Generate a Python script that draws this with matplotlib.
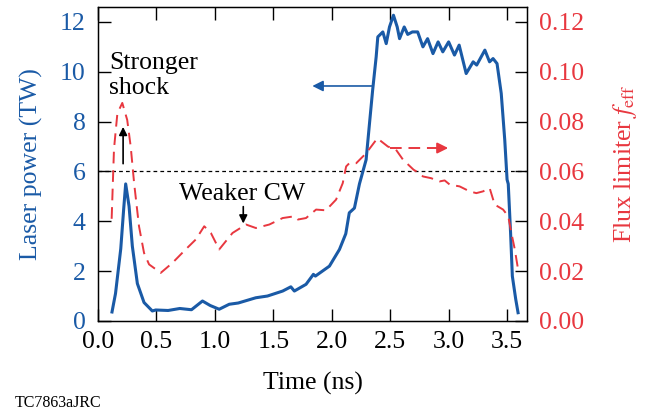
import numpy as np
import matplotlib.pyplot as plt

plt.rcParams['font.family'] = ['Liberation Serif', 'DejaVu Serif']
plt.rcParams['mathtext.fontset'] = 'stix'

blue = '#1a5aa6'
red = '#e8373f'

# laser power (TW) vs time (ns)
t_laser = [0.12, 0.15, 0.195, 0.22, 0.237, 0.266, 0.294, 0.337, 0.394, 0.465, 0.494, 0.6, 0.7,
           0.8, 0.894, 0.96, 1.037, 1.123, 1.2, 1.35, 1.45, 1.58, 1.65, 1.68, 1.78, 1.843, 1.86,
           1.98, 2.066, 2.12, 2.15, 2.194, 2.237, 2.294, 2.323, 2.35, 2.38, 2.394, 2.437, 2.466,
           2.494, 2.528, 2.56, 2.58, 2.62, 2.65, 2.69, 2.735, 2.78, 2.82, 2.866, 2.91, 2.95, 3.0,
           3.05, 3.09, 3.15, 3.21, 3.24, 3.31, 3.35, 3.38, 3.414, 3.45, 3.48, 3.5, 3.51, 3.53,
           3.545, 3.574, 3.594]
p_laser = [0.36, 1.1, 2.9, 4.5, 5.5, 4.6, 3.0, 1.5, 0.74, 0.4, 0.44, 0.42, 0.5,
           0.45, 0.8, 0.62, 0.47, 0.67, 0.72, 0.93, 1.0, 1.2, 1.37, 1.2, 1.47, 1.87, 1.8,
           2.2, 2.87, 3.5, 4.34, 4.53, 5.5, 6.47, 7.93, 9.27, 10.6, 11.4, 11.6, 11.13,
           11.8, 12.27, 11.8, 11.33, 11.8, 11.5, 11.6, 11.6, 11.0, 11.33, 10.73, 11.2, 10.8, 11.2,
           10.67, 11.07, 9.93, 10.4, 10.27, 10.87, 10.4, 10.53, 10.33, 9.13, 7.27, 5.67, 5.5, 3.53,
           1.8, 0.87, 0.33]

# effective flux limiter vs time (ns)
t_flux = [0.117, 0.137, 0.166, 0.208, 0.25, 0.28, 0.309, 0.351, 0.394, 0.437, 0.537, 0.637,
          0.75, 0.837, 0.909, 0.966, 1.037, 1.094, 1.151, 1.266, 1.351, 1.466, 1.58, 1.68, 1.71,
          1.78, 1.866, 1.95, 2.037, 2.094, 2.123, 2.15, 2.194, 2.209, 2.294, 2.39, 2.48, 2.55,
          2.61, 2.7, 2.75, 2.78, 2.85, 2.923, 2.966, 3.01, 3.094, 3.18, 3.237, 3.294, 3.351,
          3.394, 3.466, 3.51, 3.537, 3.566, 3.594]
f_flux = [0.041, 0.069, 0.0833, 0.0875, 0.0807, 0.070, 0.0554, 0.038, 0.0273, 0.0227, 0.0193, 0.0233,
          0.0287, 0.0327, 0.038, 0.0353, 0.0287, 0.032, 0.0353, 0.0387, 0.0373, 0.0387, 0.0413, 0.042, 0.0407,
          0.0413, 0.0447, 0.0444, 0.0487, 0.0553, 0.062, 0.0633, 0.0633, 0.0633, 0.0673, 0.0733, 0.070, 0.0687,
          0.0647, 0.0607, 0.0593, 0.058, 0.0573, 0.056, 0.0564, 0.0547, 0.054, 0.052, 0.0513, 0.052, 0.0533,
          0.0467, 0.0447, 0.042, 0.0353, 0.0287, 0.0207]

fig = plt.figure(figsize=(6.62, 4.12), dpi=100)
ax = fig.add_axes([0.148, 0.221, 0.648, 0.762])
ax2 = ax.twinx()

ax.plot(t_laser, p_laser, color=blue, lw=2.2, zorder=3)
ax2.plot(t_flux, f_flux, color=red, lw=1.4, dashes=(6, 3.5))
ax.axhline(6, color='black', lw=0.9, dashes=(3, 2.5))

ax.set_xlim(0, 3.67)
ax.set_ylim(0, 12.6)
ax2.set_ylim(0, 0.126)
ax.set_xticks(np.arange(0, 3.6, 0.5))
ax.set_yticks(np.arange(0, 13, 2))
ax2.set_yticks(np.arange(0, 0.13, 0.02))
ax2.set_yticklabels(['%.2f' % v for v in np.arange(0, 0.13, 0.02)])

ax.tick_params(direction='in', length=9, width=1, labelsize=18.5, top=True, pad=7)
ax.tick_params(axis='y', labelcolor=blue, pad=9)
ax2.tick_params(direction='in', length=9, width=1, labelsize=18.5, labelcolor=red, pad=9)
for sp in ax.spines.values():
    sp.set_linewidth(1)

ax.set_xlabel('Time (ns)', fontsize=18.5, labelpad=14)
ax.set_ylabel('Laser power (TW)', fontsize=18.5, color=blue, labelpad=12)
ax2.set_ylabel(r'Flux limiter $f_{\rm eff}$', fontsize=18.5, color=red, labelpad=19)

ax.text(0.095, 9.85, 'Stronger\nshock', fontsize=18.5, va='center', ha='left', linespacing=1.2)
ax.annotate('', xy=(0.215, 7.9), xytext=(0.215, 6.2),
            arrowprops=dict(arrowstyle='-|>', color='black', lw=1.2, mutation_scale=12))
ax.text(1.23, 5.1, 'Weaker CW', fontsize=18.5, ha='center', va='center')
ax.annotate('', xy=(1.243, 3.8), xytext=(1.243, 4.7),
            arrowprops=dict(arrowstyle='-|>', color='black', lw=1.2, mutation_scale=12))

ax.annotate('', xy=(1.81, 9.43), xytext=(2.37, 9.43),
            arrowprops=dict(arrowstyle='-|>', color=blue, lw=1.2, mutation_scale=16))
ax2.plot([2.5, 2.93], [0.0694, 0.0694], color=red, lw=1.4, dashes=(6, 3.5))
ax2.annotate('', xy=(3.02, 0.0694), xytext=(2.93, 0.0694),
             arrowprops=dict(arrowstyle='-|>', color=red, lw=1.4, mutation_scale=16))

fig.text(0.022, 0.012, 'TC7863aJRC', fontsize=11.5)

fig.savefig('out.png', dpi=100)
